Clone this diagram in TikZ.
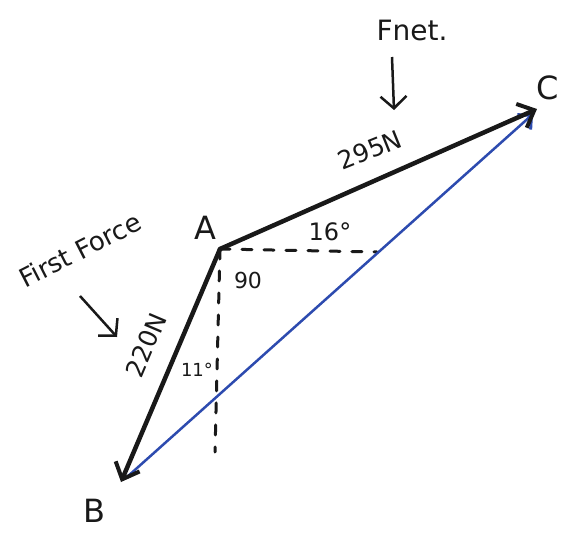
\documentclass[tikz,border=0pt]{standalone}
\usepackage{fontspec}
\setmainfont{DejaVu Sans}
\usetikzlibrary{arrows.meta}
\definecolor{penblue}{RGB}{45,75,175}
\definecolor{ink}{RGB}{25,25,25}
\tikzset{
  force/.style={draw=ink, line width=4.5pt, line cap=round, -{Straight Barb[length=14pt,width=26pt,line width=4pt]}},
  result/.style={draw=penblue, line width=2.5pt, -{Straight Barb[length=10pt,width=20pt,line width=3pt]}},
  guide/.style={draw=ink, line width=3pt, dash pattern=on 10pt off 12pt, line cap=round},
  pointer/.style={draw=ink, line width=2.5pt, -{Straight Barb[length=12pt,width=26pt,line width=2.5pt]}},
  lbl/.style={text=ink, inner sep=0pt},
}
\begin{document}
\begin{tikzpicture}[x=1pt,y=-1pt]
\useasboundingbox (0,0) rectangle (568,533);
\coordinate (A) at (220,249);
\coordinate (B) at (121,482);
\coordinate (C) at (537,109);
\coordinate (Bb) at (127,477);
\coordinate (Cb) at (533,114);
\coordinate (H) at (377,252);
\coordinate (V) at (215,452);
\coordinate (f1) at (80,296);
\coordinate (f2) at (117,337);
\coordinate (n1) at (392,57);
\coordinate (n2) at (394,110);
% guide lines
\draw[guide] (A) -- (H);
\draw[guide] (A) -- (V);
% resultant
\draw[result] (Bb) -- (Cb);
% forces
\draw[force] (A) -- (B);
\draw[force] (A) -- (C);
% pointers
\draw[pointer] (f1) -- (f2);
\draw[pointer] (n1) -- (n2);
% labels
\node[lbl, font=\fontsize{32}{32}\selectfont] (lA) at (205,228) {A};
\node[lbl, font=\fontsize{32}{32}\selectfont] (lB) at (94,511) {B};
\node[lbl, font=\fontsize{32}{32}\selectfont] (lC) at (548,88) {C};
\node[lbl, font=\fontsize{25}{25}\selectfont, rotate=22] (l295) at (370,150) {295N};
\node[lbl, font=\fontsize{25}{25}\selectfont, rotate=67] (l220) at (146,345) {220N};
\node[lbl, font=\fontsize{24}{24}\selectfont] (l16) at (330,232) {16°};
\node[lbl, font=\fontsize{22}{22}\selectfont] (l90) at (248,280) {90};
\node[lbl, font=\fontsize{18}{18}\selectfont] (l11) at (197,370) {11°};
\node[lbl, font=\fontsize{26}{26}\selectfont, rotate=27] (lff) at (80,250) {First Force};
\node[lbl, font=\fontsize{28}{28}\selectfont] (lfn) at (412,30) {Fnet.};
\end{tikzpicture}
\end{document}
